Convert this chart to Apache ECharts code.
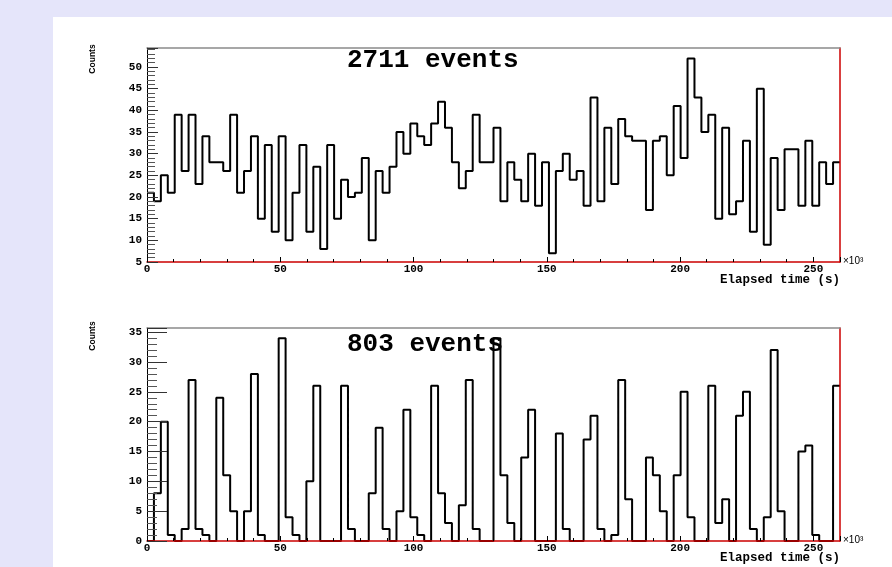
<!DOCTYPE html>
<html><head><meta charset="utf-8">
<script src="https://cdn.jsdelivr.net/npm/echarts@6/dist/echarts.min.js"></script>
<style>
html,body{margin:0;padding:0;width:892px;height:567px;background:#e5e5fa;overflow:hidden}
#panel{position:absolute;left:53px;top:17px;width:839px;height:550px;background:#fff}
#chart{position:absolute;left:0;top:0;width:892px;height:567px}
</style></head><body><div id="panel"></div><div id="chart"></div>
<script>
// ---- data (bin counts, 100 bins of 2.6 x10^3 s each) ----
const topCounts = [21,19,25,21,39,26,39,23,34,28,28,26,39,21,26,34,15,32,12,34,
  10,21,32,12,27,8,32,15,24,20,21,29,10,26,21,27,35,30,37,34,
  32,37,42,36,28,22,26,39,28,28,36,19,28,24,19,30,18,28,7,26,
  30,24,26,18,43,19,36,23,38,34,33,33,17,33,34,25,41,29,52,43,
  35,39,15,36,16,19,33,12,45,9,29,17,31,31,18,33,18,28,23,28];
const bottomCounts = [0,8,20,1,0,2,27,2,1,0,24,11,5,0,5,28,1,0,0,34,
  4,1,0,10,26,0,0,0,26,2,0,0,8,19,2,0,5,22,4,1,
  0,26,8,3,0,6,27,2,0,0,34,11,3,0,14,22,0,0,0,18,
  2,0,0,17,21,2,0,1,27,7,0,0,14,11,5,0,11,25,4,0,
  0,26,3,7,0,21,25,2,0,4,32,5,0,0,15,16,1,0,0,26];
const binWidth = 2.6;
const xRange = [0, 260];
const xTickStep = 50;
const topYRange = [5, 54.4];
const bottomYRange = [0, 35.7];
const yTickStep = 5;
const topTitle = '2711 events';
const bottomTitle = '803 events';
const xAxisName = 'Elapsed time (s)';
const xUnit = '\u00d710\u00b3';
const yAxisName = 'Counts';

function stepData(counts){
  const d = counts.map((v,i)=>[xRange[0] + i*binWidth, v]);
  d.push([xRange[0] + counts.length*binWidth, counts[counts.length-1]]);
  return d;
}
function xAxesFor(g){
  return [{
    type:'value', gridIndex:g, position:'bottom', min:xRange[0], max:xRange[1], interval:xTickStep,
    axisLine:{show:true, onZero:false, lineStyle:{color:'#cc0000', width:1.5}},
    axisTick:{show:true, inside:true, length:5, lineStyle:{color:'#000'}},
    minorTick:{show:true, splitNumber:5, length:3, lineStyle:{color:'#000'}},
    axisLabel:{margin:2, color:'#000', fontFamily:'"Liberation Mono", monospace', fontWeight:'bold', fontSize:11,
      formatter:v=> (Math.abs(v % xTickStep) < 1e-6 ? String(v) : '')},
    splitLine:{show:false}, minorSplitLine:{show:false}
  },{
    type:'value', gridIndex:g, position:'top', min:xRange[0], max:xRange[1],
    axisLine:{show:true, onZero:false, lineStyle:{color:'#8a8a8a', width:1.5}},
    axisTick:{show:false}, axisLabel:{show:false}, splitLine:{show:false}
  }];
}
function yAxesFor(g, range, majLen, minLen){
  return [{
    type:'value', gridIndex:g, position:'left', min:range[0], max:range[1], interval:yTickStep,
    axisLine:{show:true, onZero:false, lineStyle:{color:'#000', width:1}},
    axisTick:{show:true, inside:true, length:majLen, lineStyle:{color:'#333'}},
    minorTick:{show:true, splitNumber:5, length:minLen, lineStyle:{color:'#555'}},
    axisLabel:{margin:5, color:'#000', fontFamily:'"Liberation Mono", monospace', fontWeight:'bold', fontSize:11,
      formatter:v=> (Math.abs(v % yTickStep) < 1e-6 ? String(v) : '')},
    splitLine:{show:false}, minorSplitLine:{show:false}
  },{
    type:'value', gridIndex:g, position:'right', min:range[0], max:range[1],
    axisLine:{show:true, onZero:false, lineStyle:{color:'#cc0000', width:1.5}},
    axisTick:{show:false}, axisLabel:{show:false}, splitLine:{show:false}
  }];
}
const chart = echarts.init(document.getElementById('chart'), null, {renderer:'canvas'});
const titleFont = 'bold 26px "Liberation Mono", monospace';
const nameFont = 'bold 12.5px "Liberation Mono", monospace';
const option = {
  backgroundColor:'transparent',
  animation:false,
  grid:[
    {left:147, top:48, width:693, height:214, containLabel:false},
    {left:147, top:328, width:693, height:213, containLabel:false}
  ],
  xAxis:[...xAxesFor(0), ...xAxesFor(1)],
  yAxis:[...yAxesFor(0, topYRange, 11, 8), ...yAxesFor(1, bottomYRange, 20, 10)],
  series:[
    {type:'line', xAxisIndex:0, yAxisIndex:0, step:'end', data:stepData(topCounts), symbol:'none',
      z:-1, lineStyle:{color:'#000', width:2}, clip:true},
    {type:'line', xAxisIndex:2, yAxisIndex:2, step:'end', data:stepData(bottomCounts), symbol:'none',
      z:-1, lineStyle:{color:'#000', width:2}, clip:true}
  ],
  graphic:[
    {type:'text', x:347, y:60, style:{text:topTitle, font:titleFont, fill:'#000', textVerticalAlign:'middle'}},
    {type:'text', x:347, y:344, style:{text:bottomTitle, font:titleFont, fill:'#000', textVerticalAlign:'middle'}},
    {type:'text', x:840, y:280, style:{text:xAxisName, font:nameFont, fill:'#000', textAlign:'right', textVerticalAlign:'middle'}},
    {type:'text', x:840, y:558, style:{text:xAxisName, font:nameFont, fill:'#000', textAlign:'right', textVerticalAlign:'middle'}},
    {type:'text', x:843, y:261, style:{text:xUnit, font:'10px "Liberation Sans", sans-serif', fill:'#000', textVerticalAlign:'middle'}},
    {type:'text', x:843, y:540, style:{text:xUnit, font:'10px "Liberation Sans", sans-serif', fill:'#000', textVerticalAlign:'middle'}},
    {type:'text', x:93, y:59, rotation:Math.PI/2, style:{text:yAxisName, font:'bold 8.5px "Liberation Sans", sans-serif', fill:'#000', textAlign:'center', textVerticalAlign:'middle'}},
    {type:'text', x:93, y:336, rotation:Math.PI/2, style:{text:yAxisName, font:'bold 8.5px "Liberation Sans", sans-serif', fill:'#000', textAlign:'center', textVerticalAlign:'middle'}}
  ]
};
chart.setOption(option);
</script></body></html>
